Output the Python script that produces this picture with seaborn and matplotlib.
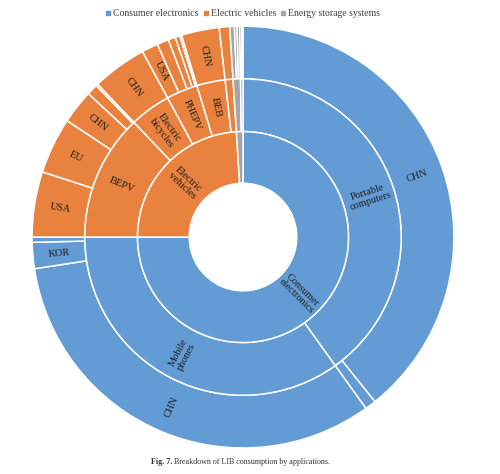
import numpy as np
import matplotlib
matplotlib.use("Agg")
import matplotlib.pyplot as plt
import seaborn as sns
from matplotlib.lines import Line2D

# ---- data: share of total LIB consumption (%) ----
groups = ["Consumer electronics", "Electric vehicles", "Energy storage systems"]
group_labels = ["Consumer\nelectronics", "Electric\nvehicles", ""]
group_values = [75.0, 24.0, 1.0]

apps = ["Portable\ncomputers", "Mobile\nphones", "BEPV", "Electric\nbicycles",
        "PHEPV", "BEB", "", "", ""]
app_values = [40.1, 34.9, 12.9, 4.2, 3.2, 2.9, 0.8, 0.75, 0.25]
app_group = [0, 0, 1, 1, 1, 1, 1, 2, 2]

regions = ["CHN", "", "CHN", "KOR", "",
           "USA", "EU", "CHN", "", "",
           "CHN",
           "USA", "", "", "", "",
           "CHN",
           "",
           "", "", "", "", ""]
region_values = [39.25, 0.85, 32.5, 2.0, 0.4,
                 5.0, 4.3, 2.6, 0.85, 0.15,
                 4.2,
                 1.25, 0.9, 0.55, 0.35, 0.15,
                 2.9,
                 0.8,
                 0.35, 0.2, 0.2, 0.15, 0.1]
region_group = [0] * 5 + [1] * 13 + [2] * 5

# ---- style ----
sns.set_theme(style="white")
plt.rcParams["font.family"] = ["Liberation Serif", "DejaVu Serif"]
palette = ["#639CD5", "#E9823F", "#A5A5A5"]
text_color = "#1e1e1e"

fig = plt.figure(figsize=(5.0, 4.74), dpi=100)
ax = fig.add_axes([0.064, 0.0549, 0.844, 0.890])

ring_kw = dict(startangle=90, counterclock=False)
edge = dict(edgecolor="white", linewidth=1.1)

w_out, _ = ax.pie(region_values, radius=1.0, colors=[palette[g] for g in region_group],
                  wedgeprops=dict(width=0.25, **edge), **ring_kw)
w_mid, _ = ax.pie(app_values, radius=0.75, colors=[palette[g] for g in app_group],
                  wedgeprops=dict(width=0.25, **edge), **ring_kw)
w_in, _ = ax.pie(group_values, radius=0.5, colors=palette,
                 wedgeprops=dict(width=0.245, **edge), **ring_kw)


def add_labels(wedges, labels, r):
    # radial labels at the middle of each wedge
    for w, lab in zip(wedges, labels):
        if not lab:
            continue
        mid = (w.theta1 + w.theta2) / 2
        x = r * np.cos(np.deg2rad(mid))
        y = r * np.sin(np.deg2rad(mid))
        rot = (mid + 180) % 360 - 180
        if rot > 90:
            rot -= 180
        elif rot < -90:
            rot += 180
        ax.text(x, y, lab, rotation=rot, rotation_mode="anchor", ha="center",
                va="center", multialignment="center", fontsize=7.5,
                color=text_color, linespacing=1.0)


add_labels(w_in, group_labels, 0.378)
add_labels(w_mid, apps, 0.627)
add_labels(w_out, regions, 0.876)

ax.set_xlim(-1, 1)
ax.set_ylim(-1, 1)
ax.set_aspect("equal")
ax.axis("off")

# legend on top
handles = [Line2D([], [], marker="s", linestyle="none", markersize=2.6,
                  markerfacecolor=c, markeredgecolor=c) for c in palette]
fig.legend(handles, groups, loc="center", bbox_to_anchor=(0.486, 1 - 14 / 474),
           ncol=3, frameon=False, fontsize=7, handlelength=0.5, handletextpad=0.25,
           columnspacing=0.5, labelcolor="#404040")

# caption
cap_y = 1 - 462 / 474
fig.text(0.345, cap_y, "Fig. 7.", ha="right", va="center", fontsize=5.8,
         fontweight="bold", color="#333333")
fig.text(0.349, cap_y, "Breakdown of LIB consumption by applications.", ha="left",
         va="center", fontsize=5.8, color="#333333")

fig.savefig("out.png", dpi=100)
